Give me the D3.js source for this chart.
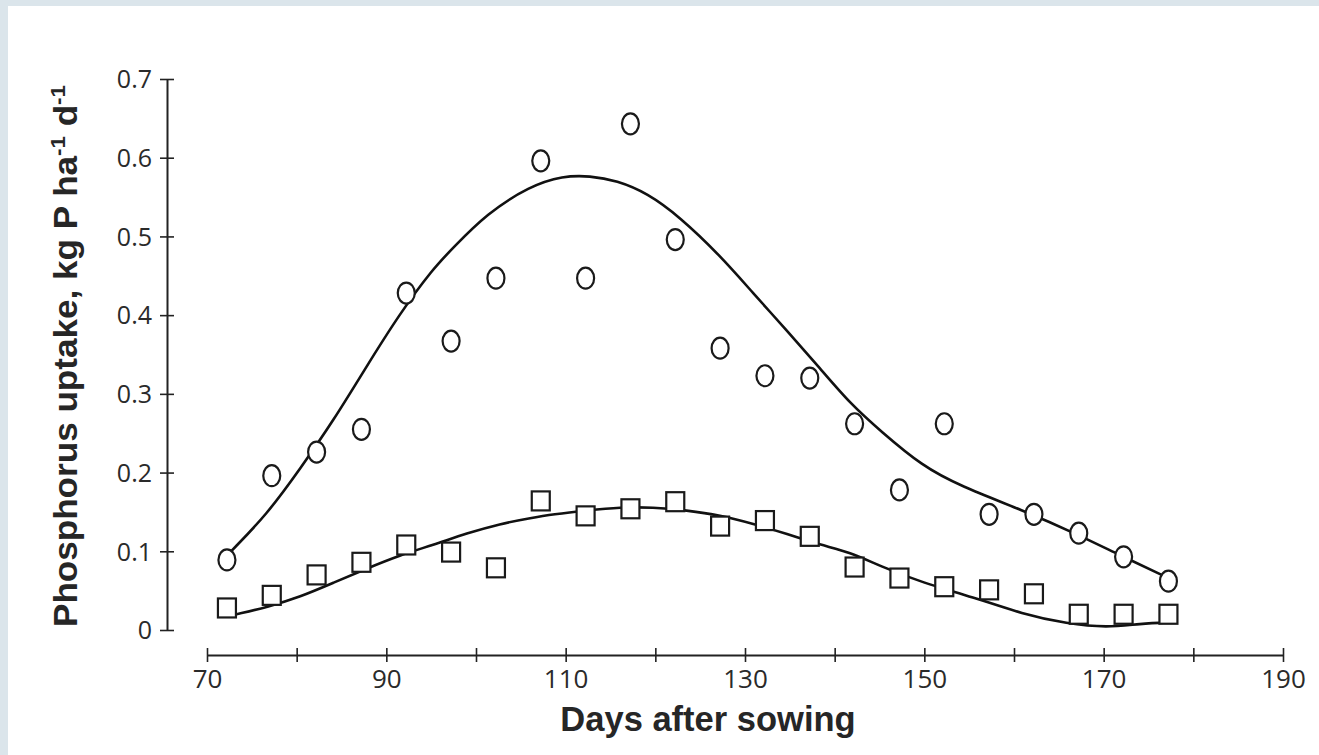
<!DOCTYPE html>
<html>
<head>
<meta charset="utf-8">
<script src="https://cdn.jsdelivr.net/npm/d3@7"></script>
<style>
  html, body { margin: 0; padding: 0; background: #ffffff; }
  svg { display: block; }
</style>
</head>
<body>
<svg id="chart" width="1319" height="755"></svg>
<script>
// Observation days (days after sowing)
const days = [72, 77, 82, 87, 92, 97, 102, 107, 112, 117, 122, 127, 132, 137, 142, 147, 152, 157, 162, 167, 172, 177];

// Measured uptake, circles (upper series) and squares (lower series), kg P ha-1 d-1
const circleValues = [0.089, 0.196, 0.226, 0.255, 0.428, 0.367, 0.447, 0.596, 0.447, 0.643, 0.496, 0.358,
                      0.323, 0.320, 0.262, 0.178, 0.262, 0.147, 0.147, 0.123, 0.093, 0.062];
const squareValues = [0.028, 0.044, 0.070, 0.086, 0.108, 0.099, 0.079, 0.164, 0.145, 0.154, 0.163, 0.132,
                      0.139, 0.119, 0.080, 0.066, 0.055, 0.051, 0.046, 0.020, 0.020, 0.020];

// Fitted curve for the circle series
const upperFitDays = [72.6, 76.7, 80.4, 84.1, 87.8, 91.5, 95.2, 97.4, 101.2, 106.0, 109.7, 112.7, 115.7, 119.1,
                      122.7, 127.2, 130.9, 134.7, 138.4, 141.7, 145.1, 149.8, 154.0, 161.0, 167.0, 171.8, 177.4];
const upperFitValues = [0.099, 0.147, 0.205, 0.266, 0.335, 0.402, 0.459, 0.485, 0.529, 0.564, 0.577, 0.577, 0.571, 0.555,
                        0.525, 0.476, 0.428, 0.380, 0.332, 0.288, 0.253, 0.208, 0.183, 0.152, 0.122, 0.095, 0.065];

// Fitted curve for the square series
const lowerFitDays = [73.3, 76.7, 80.4, 84.1, 87.8, 91.5, 95.2, 99.0, 102.7, 106.0, 108.6, 112.4, 116.1, 119.7,
                      123.5, 127.2, 130.9, 134.7, 138.4, 141.7, 145.1, 149.8, 155.4, 161.0, 165.9, 170.4, 174.0, 177.7];
const lowerFitValues = [0.020, 0.029, 0.042, 0.060, 0.078, 0.095, 0.108, 0.123, 0.135, 0.142, 0.147, 0.152, 0.156, 0.156,
                        0.152, 0.146, 0.135, 0.122, 0.108, 0.099, 0.081, 0.060, 0.042, 0.020, 0.008, 0.003, 0.008, 0.010];

// Axis ticks
const xTicks = [70, 80, 90, 100, 110, 120, 130, 140, 150, 160, 170, 180, 190];
const xTickLabels = ["70", "", "90", "", "110", "", "130", "", "150", "", "170", "", "190"];
const yTicks = [0, 0.1, 0.2, 0.3, 0.4, 0.5, 0.6, 0.7];
const yTickLabels = ["0", "0.1", "0.2", "0.3", "0.4", "0.5", "0.6", "0.7"];

const svg = d3.select("#chart");
const W = 1319, H = 755;

// Page frame
svg.append("rect").attr("width", W).attr("height", H).attr("fill", "#dbe5eb");
svg.append("rect").attr("x", 8).attr("y", 6).attr("width", W - 8).attr("height", H - 6).attr("fill", "#ffffff");

const x = d3.scaleLinear().domain([70, 190]).range([207, 1283]);
const y = d3.scaleLinear().domain([0, 0.7]).range([630, 79]);

const axisColor = "#222";
const tickFont = "'Open Sans', 'Noto Sans', sans-serif";

// X axis
const xAxis = svg.append("g")
  .attr("transform", "translate(0,655)")
  .call(d3.axisBottom(x).tickValues(xTicks).tickSizeOuter(0)
    .tickFormat((d, i) => xTickLabels[i]));
xAxis.select(".domain").attr("stroke", axisColor).attr("stroke-width", 2);
xAxis.selectAll(".tick line").attr("y1", -7).attr("y2", 7).attr("stroke", axisColor).attr("stroke-width", 1.6);
xAxis.selectAll(".tick text")
  .attr("y", 15).attr("dy", "0.71em")
  .attr("fill", "#2a2a2a").style("font-family", tickFont).style("font-size", "26px");

// Y axis
const yAxis = svg.append("g")
  .attr("transform", "translate(167,0)")
  .call(d3.axisLeft(y).tickValues(yTicks).tickSizeOuter(0)
    .tickFormat((d, i) => yTickLabels[i]));
yAxis.select(".domain").attr("stroke", axisColor).attr("stroke-width", 2);
yAxis.selectAll(".tick line").attr("x1", -7).attr("x2", 7).attr("stroke", axisColor).attr("stroke-width", 1.6);
yAxis.selectAll(".tick text")
  .attr("x", -15).attr("dy", "0.35em")
  .attr("fill", "#2a2a2a").style("font-family", tickFont).style("font-size", "25px");

// Axis titles
svg.append("text")
  .attr("x", 708).attr("y", 731)
  .attr("text-anchor", "middle")
  .attr("fill", "#262626")
  .style("font-family", "'Liberation Sans', Arial, sans-serif")
  .style("font-weight", "bold").style("font-size", "34.5px")
  .text("Days after sowing");

const yTitle = svg.append("text")
  .attr("transform", "translate(77,356) rotate(-90)")
  .attr("text-anchor", "middle")
  .attr("fill", "#262626")
  .attr("textLength", 542).attr("lengthAdjust", "spacingAndGlyphs")
  .style("font-family", "'Liberation Sans', Arial, sans-serif")
  .style("font-weight", "bold").style("font-size", "33px");
yTitle.append("tspan").text("Phosphorus uptake, kg P ha");
yTitle.append("tspan").attr("dy", -12).style("font-size", "21px").text("-1");
yTitle.append("tspan").attr("dy", 12).text(" d");
yTitle.append("tspan").attr("dy", -12).style("font-size", "21px").text("-1");

// Fitted curves
const line = d3.line().x(d => x(d[0])).y(d => y(d[1])).curve(d3.curveBasis);
svg.append("path")
  .datum(upperFitDays.map((d, i) => [d, upperFitValues[i]]))
  .attr("d", line).attr("fill", "none").attr("stroke", "#111").attr("stroke-width", 2.6);
svg.append("path")
  .datum(lowerFitDays.map((d, i) => [d, lowerFitValues[i]]))
  .attr("d", line).attr("fill", "none").attr("stroke", "#111").attr("stroke-width", 2.6);

// Circle observations
svg.append("g").selectAll("ellipse")
  .data(days.map((d, i) => [d, circleValues[i]]))
  .join("ellipse")
  .attr("cx", d => x(d[0]) + 2).attr("cy", d => y(d[1]))
  .attr("rx", 8.5).attr("ry", 10.5)
  .attr("fill", "#fff").attr("stroke", "#1a1a1a").attr("stroke-width", 2.2);

// Square observations
const sqW = 18, sqH = 19;
svg.append("g").selectAll("rect")
  .data(days.map((d, i) => [d, squareValues[i]]))
  .join("rect")
  .attr("x", d => x(d[0]) + 2 - sqW / 2).attr("y", d => y(d[1]) - sqH / 2)
  .attr("width", sqW).attr("height", sqH)
  .attr("fill", "#fff").attr("stroke", "#1a1a1a").attr("stroke-width", 2.2);
</script>
</body>
</html>
